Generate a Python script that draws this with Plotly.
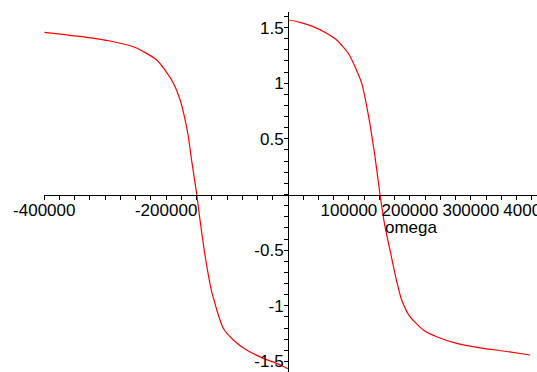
import plotly.graph_objects as go

# Phase angle versus omega: left branch (omega < 0) and right branch (omega > 0)
omega_neg = [-400000, -366000, -330000, -292000, -254000, -232000, -215500,
             -202000, -188000, -177000, -170000, -163600, -158000, -150000,
             -144400, -137500, -133400, -128500, -125200, -120000, -117000,
             -106200, -89800, -67800, -40500, -18500, 0]
phase_neg = [1.457, 1.436, 1.412, 1.379, 1.328, 1.268, 1.208,
             1.119, 0.999, 0.849, 0.70, 0.52, 0.30, 0.01,
             -0.23, -0.50, -0.64, -0.79, -0.875, -0.975, -1.035,
             -1.202, -1.307, -1.397, -1.472, -1.517, -1.565]

omega_pos = [0, 19700, 41500, 63500, 79900, 99000, 110000, 121000, 127500,
             134600, 142800, 151000, 159200, 167400, 178400, 186600,
             200200, 222100, 244000, 276900, 320600, 353400, 397200]
phase_pos = [1.57, 1.547, 1.508, 1.448, 1.388, 1.269, 1.148, 0.999, 0.84,
             0.63, 0.34, 0.0, -0.289, -0.499, -0.78, -0.948,
             -1.098, -1.217, -1.278, -1.337, -1.382, -1.406, -1.442]

# Tick positions and labels
x_tickvals = [v * 25000 for v in range(-16, 17)]
x_labeled = {-400000: "-400000", -200000: "-200000", 100000: "100000",
             200000: "200000", 300000: "300000", 400000: "400000"}
x_ticktext = [x_labeled.get(v, "") for v in x_tickvals]

y_tickvals = [round(v * 0.1, 1) for v in range(-16, 17)]
y_labeled = {-1.5: "-1.5", -1.0: "-1", -0.5: "-0.5", 0.5: "0.5", 1.0: "1", 1.5: "1.5"}
y_ticktext = [y_labeled.get(v, "") for v in y_tickvals]

W, H = 537, 372
x0_px, y0_px = 288.0, 194.5          # pixel location of the origin
px_per_x = 60.93 / 100000            # horizontal scale
px_per_y = 111.3                     # vertical scale
left_px, top_px = 44.3, 12.0         # where the axis lines start

x_range = [(left_px - x0_px) / px_per_x, (W - x0_px) / px_per_x]
y_range = [(y0_px - H) / px_per_y, (y0_px - top_px) / px_per_y]

font = dict(family="Liberation Sans, Arial, sans-serif", size=17, color="black")

fig = go.Figure()
fig.add_trace(go.Scatter(
    x=omega_neg + [None] + omega_pos,
    y=phase_neg + [None] + phase_pos,
    mode="lines",
    line=dict(color="#ff0000", width=1.2, shape="spline", smoothing=0.6),
    connectgaps=False,
    hoverinfo="skip",
    showlegend=False,
))

axis_common = dict(
    showgrid=False, zeroline=False, showline=True, linecolor="black",
    linewidth=1, ticks="outside", ticklen=4, tickwidth=1, tickcolor="black",
    tickmode="array", tickfont=font, automargin=False,
    ticklabeloverflow="allow",
)

fig.update_layout(
    width=W, height=H,
    margin=dict(l=0, r=0, t=0, b=0),
    paper_bgcolor="white", plot_bgcolor="white",
    xaxis=dict(domain=[left_px / W, 1.0], range=x_range,
               tickvals=x_tickvals, ticktext=x_ticktext,
               anchor="free", position=(H - y0_px) / H, side="bottom",
               ticklabelstandoff=-4, **axis_common),
    yaxis=dict(domain=[0.0, (H - top_px) / H], range=y_range,
               tickvals=y_tickvals, ticktext=y_ticktext,
               anchor="free", position=x0_px / W, side="left",
               ticklabelstandoff=-3, **axis_common),
    annotations=[dict(text="omega", x=383.3 / W, y=(H - 227) / H,
                      xref="paper", yref="paper", xanchor="left",
                      yanchor="middle", showarrow=False, font=font)],
)

fig.write_html("out.html")
